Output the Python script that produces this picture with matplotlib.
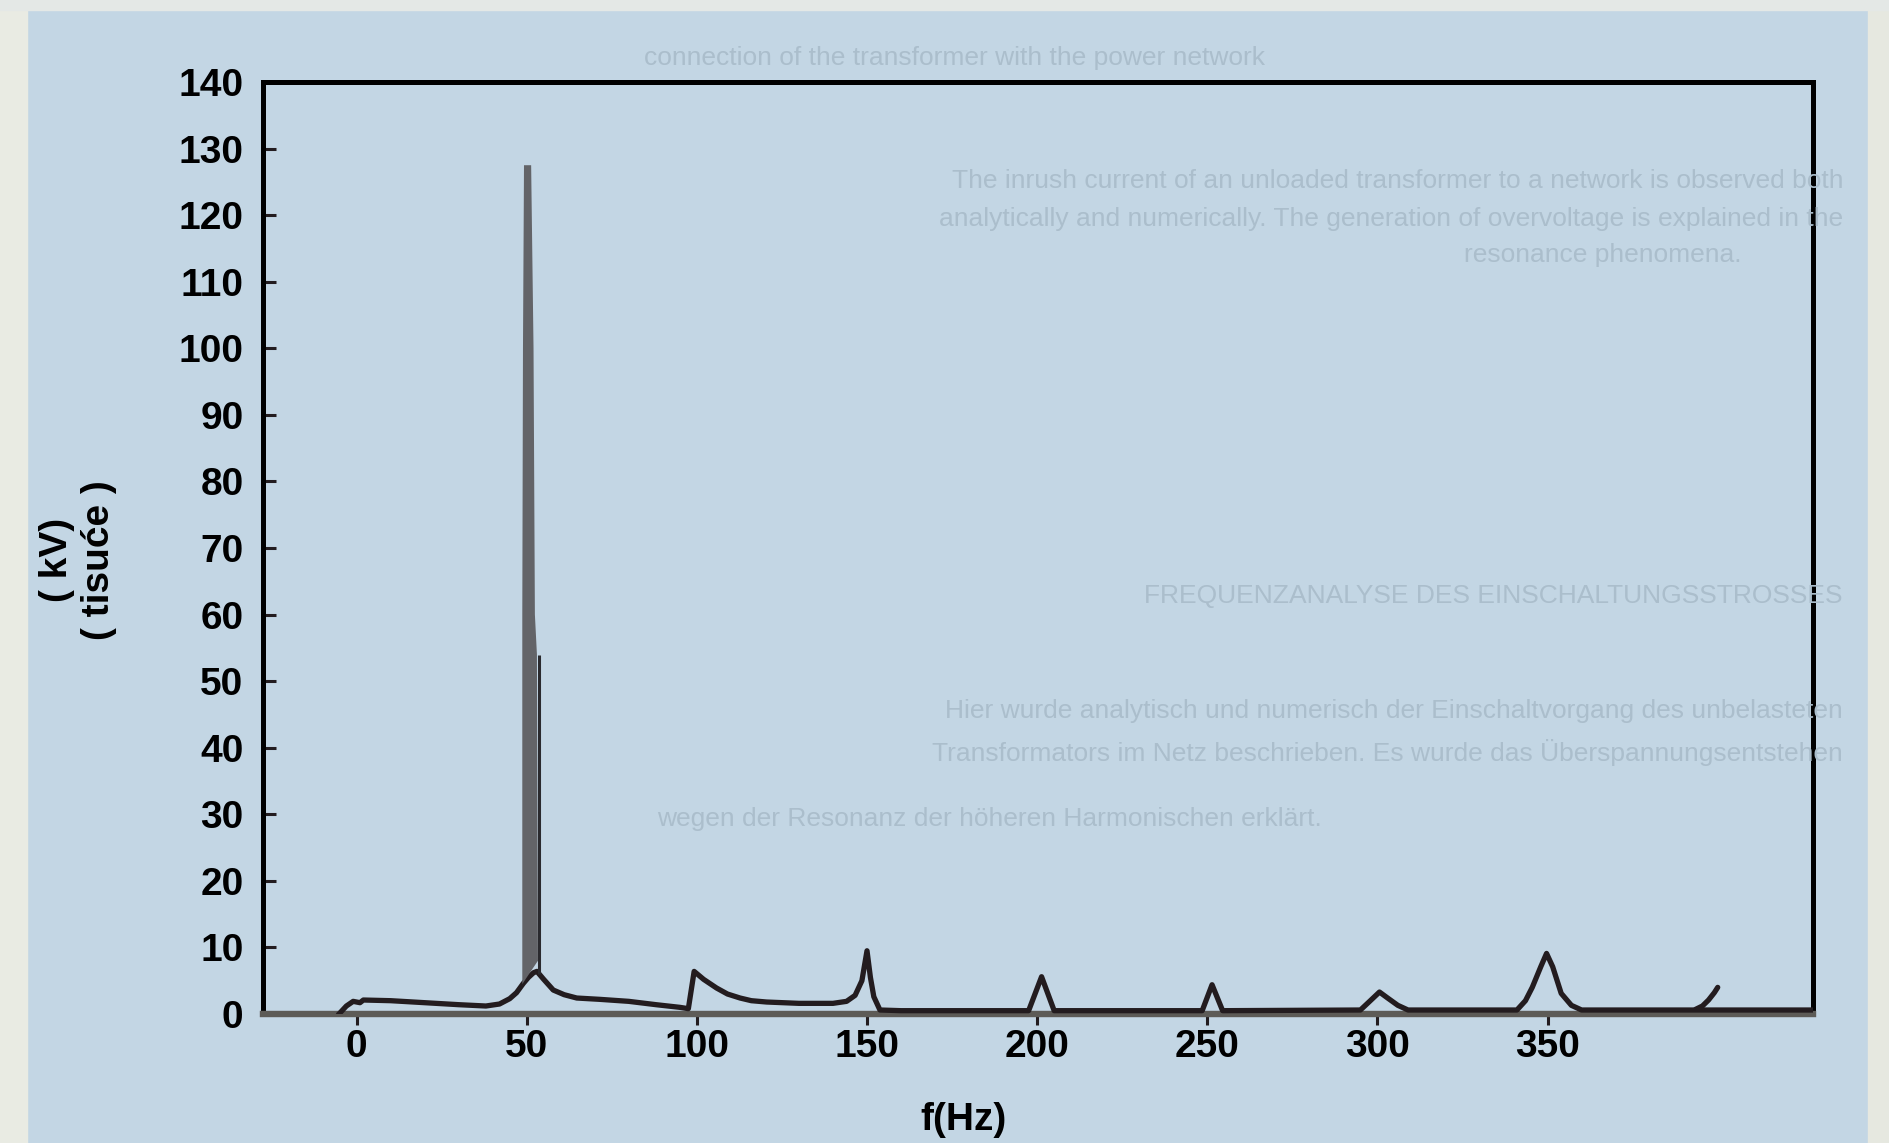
import matplotlib
matplotlib.use("Agg")
import matplotlib.pyplot as plt
from matplotlib.patches import Rectangle

# spectrum of the inrush voltage
freq = [-5, -3, -1, 1, 2, 10, 20, 30, 38, 42, 45, 47, 49, 50.5, 52, 53,
        55, 57.8, 61, 64.7, 71.5, 80, 88, 95, 97.5,
        99.2, 102, 105.8, 109, 112.7, 116, 120.5, 130, 140, 144, 146.5, 148.5,
        150, 151, 152, 153.8, 160, 197.5, 201.3, 205, 248.5, 251.4, 254.5,
        295, 297.5, 300.6, 303, 306, 309, 341, 343.5, 345.5, 348, 349.7,
        351.5, 354, 357, 360, 393, 428]
volt = [0.1, 1.2, 1.9, 1.7, 2.1, 2.0, 1.7, 1.4, 1.2, 1.5, 2.3, 3.2, 4.6, 5.5, 6.2, 6.4,
        5.2, 3.6, 2.9, 2.4, 2.2, 1.9, 1.4, 1.0, 0.8,
        6.4, 5.2, 3.9, 3.0, 2.4, 2.0, 1.8, 1.6, 1.6, 1.9, 2.8, 5.0,
        9.5, 5.5, 2.6, 0.6, 0.5, 0.5, 5.6, 0.5, 0.5, 4.4, 0.5,
        0.6, 1.8, 3.3, 2.4, 1.3, 0.6, 0.6, 2.0, 4.0, 7.1, 9.1,
        7.1, 3.1, 1.3, 0.6, 0.6, 0.6]

# rising tail at the right end
tail_f = [393.5, 395.5, 397.3, 399, 400]
tail_v = [0.7, 1.2, 2.1, 3.2, 4.0]

# the 50 Hz fundamental (grey filled spike)
spike_f = [48.7, 48.7, 48.9, 49.2, 51.3, 52.0, 52.4, 53.0, 53.3]
spike_v = [4.5, 60, 100, 127.5, 127.5, 100, 60, 54, 8]

# dark line beside the spike
ridge_f = [53.5]
ridge_lo = [6]
ridge_hi = [54]

xticks = [0, 50, 100, 150, 200, 250, 300, 350]
yticks = list(range(0, 141, 10))

# faint print showing through from the page behind the figure
ghost_lines = [
    ("connection of the transformer with the power network", 58, 1265, "right"),
    ("The inrush current of an unloaded transformer to a network is observed both", 181, 1843, "right"),
    ("analytically and numerically. The generation of overvoltage is explained in the", 219, 1843, "right"),
    ("resonance phenomena.", 255, 1464, "left"),
    ("FREQUENZANALYSE DES EINSCHALTUNGSSTROSSES", 596, 1843, "right"),
    ("Hier wurde analytisch und numerisch der Einschaltvorgang des unbelasteten", 711, 1843, "right"),
    ("Transformators im Netz beschrieben. Es wurde das Überspannungsentstehen", 753, 1843, "right"),
    ("wegen der Resonanz der höheren Harmonischen erklärt.", 819, 657, "left"),
]

BG = "#c3d6e4"
INK = "#231c1f"
font = ["Liberation Sans", "DejaVu Sans"]

fig = plt.figure(figsize=(18.89, 11.43), dpi=100, facecolor=BG)
# paper edges of the scan
fig.patches.append(Rectangle((0, 0), 27 / 1889, 1, transform=fig.transFigure,
                             color="#e9ebe3", zorder=0))
fig.patches.append(Rectangle((1868 / 1889, 0), 21 / 1889, 1, transform=fig.transFigure,
                             color="#e6e8e0", zorder=0))
fig.patches.append(Rectangle((0, 1 - 10 / 1143), 1, 10 / 1143, transform=fig.transFigure,
                             color="#e4e8e6", zorder=0))

for txt, ypix, xpix, ha in ghost_lines:
    fig.text(xpix / 1889, 1 - ypix / 1143, txt, ha=ha, va="center",
             family=font, fontsize=19, color="#abbecc", zorder=0.5)

ax = fig.add_axes([263 / 1889, 1 - 1014 / 1143, 1550 / 1889, 932 / 1143])
ax.set_facecolor("none")

ax.plot(freq, volt, color=INK, lw=3.8, solid_joinstyle="round", zorder=3)
ax.plot(tail_f, tail_v, color=INK, lw=3.8, solid_capstyle="round", zorder=3)
ax.fill(spike_f, spike_v, color="#636468", lw=0, zorder=4)
ax.vlines(ridge_f, ridge_lo, ridge_hi, color="#2a2a2e", lw=2.2, zorder=5)

ax.set_xlim(-27.5, 428)
ax.set_ylim(0, 140)
ax.set_xticks(xticks)
ax.set_yticks(yticks)
ax.set_xticklabels([str(v) for v in xticks], family=font, fontsize=28, fontweight="bold")
ax.set_yticklabels([str(v) for v in yticks], family=font, fontsize=28, fontweight="bold")
ax.tick_params(axis="x", direction="out", length=8, width=2.2, pad=3, color=INK)
ax.tick_params(axis="y", direction="in", length=9, width=2.2, pad=14, color=INK)

for side in ["top", "left", "right"]:
    ax.spines[side].set_linewidth(3.6)
    ax.spines[side].set_color("black")
ax.spines["bottom"].set_linewidth(4.6)
ax.spines["bottom"].set_color("#5d5b57")

ax.set_xlabel("f(Hz)", family=font, fontsize=28, fontweight="bold")
ax.xaxis.set_label_coords((964 - 263) / 1550, (1014 - 1120) / 932)
ax.xaxis.label.set_verticalalignment("center")

fig.text(78 / 1889, 1 - 560 / 1143, "( kV)\n( tisuće )", rotation=90,
         ha="center", va="center", multialignment="center", linespacing=1.2,
         family=font, fontsize=28, fontweight="bold", color="black")

fig.savefig("out.png", dpi=100, facecolor=BG)
